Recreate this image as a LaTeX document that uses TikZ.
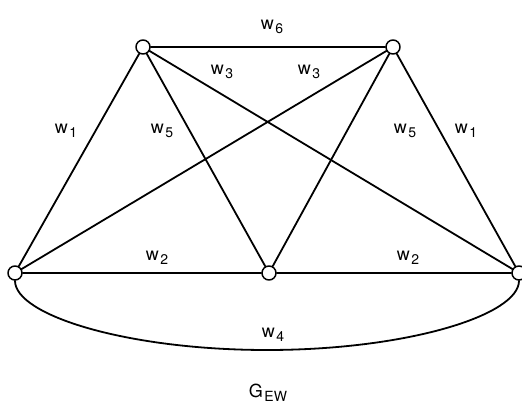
\documentclass[tikz,border=0pt]{standalone}
\usepackage{fontspec}
\setmainfont{TeX Gyre Heros}
\newcommand{\wsub}[2]{#1\kern1.5pt\raisebox{-0.45ex}{\fontsize{14}{14}\selectfont #2}}
\begin{document}
\begin{tikzpicture}[x=1pt,y=-1pt,line join=round,line cap=round,line width=1.8pt]
	\tikzset{vertex/.style={circle,draw,fill=white,inner sep=0pt,minimum size=14pt,line width=1.5pt},
		wlabel/.style={font=\fontsize{18}{20}\selectfont,inner sep=0pt}}
	\useasboundingbox (0,0) rectangle (522,415);
	\node[vertex] (tl) at (143,47) {};
	\node[vertex] (tr) at (393,47) {};
	\node[vertex] (bl) at (15,273) {};
	\node[vertex] (bm) at (269,273) {};
	\node[vertex] (br) at (519,273) {};
	\coordinate (bot) at (267,350);
	\foreach \u/\v in {tl/tr,tl/bl,tr/br,tl/br,tr/bl,tl/bm,tr/bm,bl/bm,bm/br}
	\draw (\u)--(\v);
	\draw (bl) .. controls (15,315.5) and (128,350) .. (bot) .. controls (406,350) and (519,315.5) .. (br);
	\foreach \nm/\x/\y/\s in {lsix/272/27/6,lthreea/222/72/3,lthreeb/309/72/3,lonea/66/131/1,lfivea/162/131/5,lfiveb/405/131/5,loneb/466/131/1,ltwoa/157/258/2,ltwob/408/258/2,lfour/273/335/4}
	\node[wlabel] (\nm) at (\x,\y) {\wsub{w}{\s}};
	\node[wlabel] (title) at (268,393) {\wsub{G}{EW}};
\end{tikzpicture}
\end{document}
